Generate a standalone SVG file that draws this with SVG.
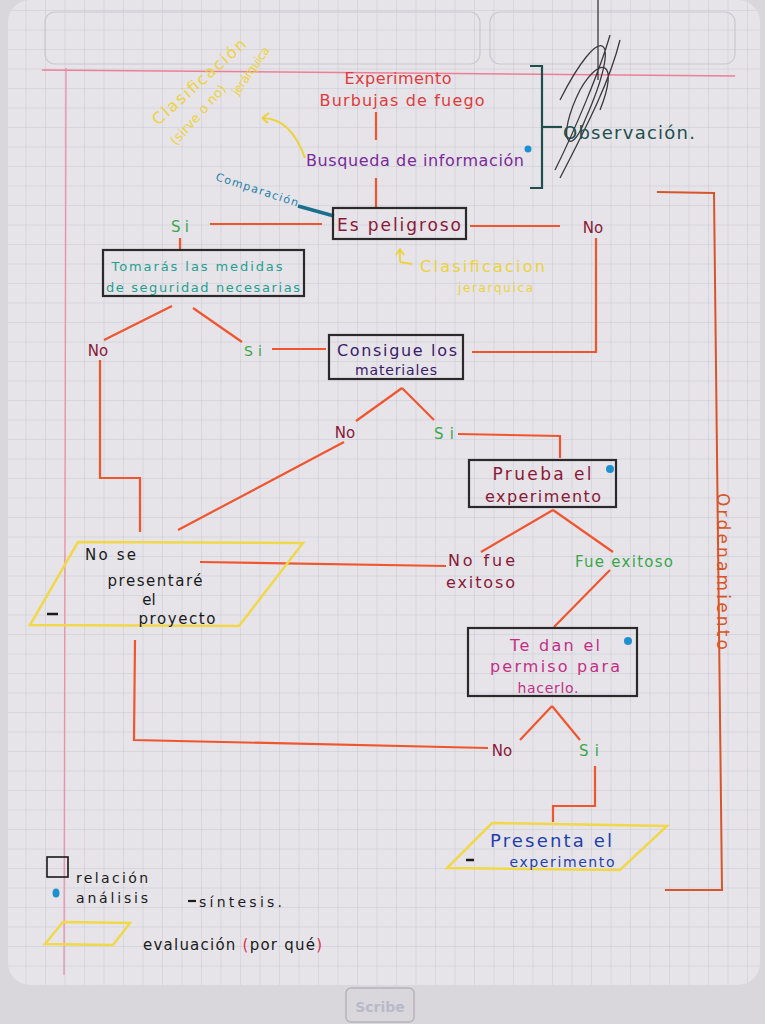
<svg xmlns="http://www.w3.org/2000/svg" width="765" height="1024" viewBox="0 0 765 1024">
<defs>
<pattern id="grid" width="19.5" height="19.5" patternUnits="userSpaceOnUse" x="6" y="10">
<path d="M19.5 0H0V19.5" fill="none" stroke="#c0c2cf" stroke-width="0.8"/>
</pattern>
<style>
.t{font-family:"DejaVu Sans","Liberation Sans",sans-serif;}
.box{fill:none;stroke:#2a2a2a;stroke-width:2.2;}
.para{fill:none;stroke:#f0d84a;stroke-width:2.5;}
.con{fill:none;stroke:#f0552e;stroke-width:2.2;}
.dot{fill:#1e90d0;}
.red{fill:#e03a3a;}
.maroon{fill:#8a1836;}
.green{fill:#3aa64a;}
.yel{fill:#ecd23c;}
</style>
</defs>
<rect width="765" height="1024" fill="#d9d7dc"/>
<rect x="8" y="0" width="752" height="985" rx="22" fill="#e6e4e9"/>
<rect x="8" y="0" width="752" height="985" rx="22" fill="url(#grid)"/>
<rect x="45" y="12" width="435" height="52" rx="10" fill="none" stroke="#c9c7d0" stroke-width="1.2"/>
<rect x="490" y="12" width="245" height="52" rx="10" fill="none" stroke="#c9c7d0" stroke-width="1.2"/>
<line x1="42" y1="70" x2="735" y2="76" stroke="#ec7f95" stroke-width="1.5"/>
<line x1="66" y1="68" x2="64" y2="975" stroke="#ec8fa8" stroke-width="1.3"/>
<rect x="346" y="988" width="68" height="34" rx="5" fill="none" stroke="#b5b3bd" stroke-width="1.5"/>
<text x="380" y="1012" class="t" font-size="14" font-weight="bold" fill="#b8b9c8" text-anchor="middle">Scribe</text>

<!-- signature scribble -->
<path d="M598 0 L598 80 M560 100 C600 20 625 30 585 120 C570 160 555 140 580 90 C600 55 620 60 600 110 M620 40 C610 80 590 120 560 178 M610 35 C600 70 575 130 555 170" fill="none" stroke="#3a3a3e" stroke-width="1.3"/>

<g id="connectors">
<line class="con" x1="376" y1="112" x2="376" y2="140"/>
<line class="con" x1="376" y1="178" x2="376" y2="208"/>
<line class="con" x1="210" y1="224" x2="322" y2="224"/>
<line class="con" x1="470" y1="226" x2="560" y2="226"/>
<line class="con" x1="180" y1="238" x2="180" y2="249"/>
<polyline class="con" points="596,238 596,352 472,352"/>
<line class="con" x1="172" y1="306" x2="104" y2="340"/>
<line class="con" x1="193" y1="308" x2="242" y2="342"/>
<line class="con" x1="272" y1="349" x2="326" y2="349"/>
<polyline class="con" points="100,360 100,478 140,478 140,532"/>
<line class="con" x1="402" y1="388" x2="356" y2="421"/>
<line class="con" x1="402" y1="388" x2="434" y2="420"/>
<polyline class="con" points="458,434 560,436 560,458"/>
<line class="con" x1="344" y1="442" x2="178" y2="530"/>
<line class="con" x1="553" y1="510" x2="481" y2="552"/>
<line class="con" x1="553" y1="510" x2="613" y2="552"/>
<line class="con" x1="200" y1="562" x2="446" y2="566"/>
<line class="con" x1="610" y1="570" x2="554" y2="627"/>
<line class="con" x1="552" y1="706" x2="520" y2="740"/>
<line class="con" x1="552" y1="706" x2="580" y2="740"/>
<polyline class="con" points="135,640 134,740 488,748"/>
<polyline class="con" points="595,766 595,806 553,806 553,822"/>
</g>

<g id="observacion">
<polyline points="530,66 542,66 542,188 530,188" fill="none" stroke="#1e4f4d" stroke-width="2.2"/>
<line x1="542" y1="127" x2="562" y2="127" stroke="#1e4f4d" stroke-width="2.2"/>
<text x="563" y="139" class="t" font-size="18" fill="#1e4f4d" textLength="132" lengthAdjust="spacing">Observación.</text>
</g>

<g id="experimento">
<text x="398" y="84" class="t red" font-size="16" text-anchor="middle" textLength="107" lengthAdjust="spacing">Experimento</text>
<text x="402" y="106" class="t red" font-size="16" text-anchor="middle" textLength="165" lengthAdjust="spacing">Burbujas de fuego</text>
</g>

<g id="busqueda">
<text x="415" y="166" class="t" font-size="16" fill="#7b2a9a" text-anchor="middle" textLength="218" lengthAdjust="spacing">Busqueda de información</text>
<circle class="dot" cx="528" cy="149" r="3.5"/>
</g>

<g id="clasificacion1">
<text class="t yel" font-size="16" transform="translate(158,126) rotate(-42)" textLength="120" lengthAdjust="spacing">Clasificación</text>
<text class="t yel" font-size="13" transform="translate(176,146) rotate(-48)" textLength="76" lengthAdjust="spacing">(sirve o no)</text>
<text class="t yel" font-size="12" transform="translate(238,96) rotate(-55)" textLength="56" lengthAdjust="spacing">jerárquica</text>
<path d="M305 158 C295 130 280 118 262 118 M262 118 l7 -5 M262 118 l6 5" fill="none" stroke="#ecd23c" stroke-width="2"/>
</g>

<g id="comparacion">
<text class="t" font-size="11" fill="#1f7fa8" transform="translate(215,180) rotate(18)" textLength="86" lengthAdjust="spacing">Comparación</text>
<line x1="298" y1="206" x2="334" y2="216" stroke="#1a6f8a" stroke-width="3.5"/>
</g>

<g id="es-peligroso">
<rect class="box" x="333" y="208" width="133" height="31"/>
<text x="399" y="231" class="t maroon" font-size="17" text-anchor="middle" textLength="124" lengthAdjust="spacing">Es peligroso</text>
</g>

<g id="clasificacion2">
<path d="M400 262 L400 250 M396 255 L400 249 L404 255 M400 262 L412 264" fill="none" stroke="#ecd23c" stroke-width="1.8"/>
<text x="420" y="272" class="t yel" font-size="16" textLength="125" lengthAdjust="spacing">Clasificacion</text>
<text x="458" y="292" class="t yel" font-size="12" textLength="75" lengthAdjust="spacing">jerarquica</text>
</g>

<g id="si1"><text x="180" y="232" class="t green" font-size="15" text-anchor="middle" textLength="18" lengthAdjust="spacing">Si</text></g>
<g id="no1"><text x="593" y="233" class="t maroon" font-size="15" text-anchor="middle">No</text></g>

<g id="tomaras">
<rect class="box" x="103" y="250" width="201" height="46"/>
<text x="197" y="271" class="t" font-size="13" fill="#1fa090" text-anchor="middle" textLength="171" lengthAdjust="spacing">Tomarás las medidas</text>
<text x="203" y="292" class="t" font-size="13" fill="#1fa090" text-anchor="middle" textLength="194" lengthAdjust="spacing">de seguridad necesarias</text>
</g>

<g id="no2"><text x="98" y="356" class="t maroon" font-size="15" text-anchor="middle">No</text></g>
<g id="si2"><text x="253" y="356" class="t green" font-size="14" text-anchor="middle" textLength="18" lengthAdjust="spacing">Si</text></g>

<g id="consigue">
<rect class="box" x="329" y="335" width="134" height="44"/>
<text x="397" y="356" class="t" font-size="16" fill="#3a1a6a" text-anchor="middle" textLength="120" lengthAdjust="spacing">Consigue los</text>
<text x="396" y="375" class="t" font-size="14" fill="#3a1a6a" text-anchor="middle" textLength="82" lengthAdjust="spacing">materiales</text>
</g>

<g id="no3"><text x="345" y="438" class="t maroon" font-size="15" text-anchor="middle">No</text></g>
<g id="si3"><text x="444" y="439" class="t green" font-size="15" text-anchor="middle" textLength="20" lengthAdjust="spacing">Si</text></g>

<g id="prueba">
<rect class="box" x="469" y="460" width="147" height="47"/>
<text x="542" y="480" class="t maroon" font-size="17" text-anchor="middle" textLength="99" lengthAdjust="spacing">Prueba el</text>
<text x="543" y="502" class="t maroon" font-size="16" text-anchor="middle" textLength="116" lengthAdjust="spacing">experimento</text>
<circle class="dot" cx="610" cy="469" r="4"/>
</g>

<g id="no-se-presentara">
<polygon class="para" points="78,542 303,543 239,626 30,625"/>
<text x="85" y="560" class="t" font-size="15" fill="#1a1a1a" textLength="51" lengthAdjust="spacing">No se</text>
<text x="155" y="586" class="t" font-size="15" fill="#1a1a1a" text-anchor="middle" textLength="95" lengthAdjust="spacing">presentaré</text>
<text x="149" y="605" class="t" font-size="15" fill="#1a1a1a" text-anchor="middle">el</text>
<text x="177" y="624" class="t" font-size="15" fill="#1a1a1a" text-anchor="middle" textLength="77" lengthAdjust="spacing">proyecto</text>
<line x1="47" y1="614" x2="58" y2="614" stroke="#1a1a1a" stroke-width="2.5"/>
</g>

<g id="no-fue-exitoso">
<text x="448" y="566" class="t maroon" font-size="16" textLength="67" lengthAdjust="spacing">No fue</text>
<text x="446" y="588" class="t maroon" font-size="16" textLength="69" lengthAdjust="spacing">exitoso</text>
</g>

<g id="fue-exitoso">
<text x="575" y="567" class="t green" font-size="15" textLength="98" lengthAdjust="spacing">Fue exitoso</text>
</g>

<g id="te-dan">
<rect class="box" x="468" y="628" width="169" height="68"/>
<text x="555" y="651" class="t" font-size="16" fill="#c42f85" text-anchor="middle" textLength="90" lengthAdjust="spacing">Te dan el</text>
<text x="555" y="672" class="t" font-size="16" fill="#c42f85" text-anchor="middle" textLength="130" lengthAdjust="spacing">permiso para</text>
<text x="548" y="693" class="t" font-size="14" fill="#c42f85" text-anchor="middle" textLength="61" lengthAdjust="spacing">hacerlo.</text>
<circle class="dot" cx="628" cy="641" r="4"/>
</g>

<g id="no4"><text x="502" y="756" class="t maroon" font-size="15" text-anchor="middle">No</text></g>
<g id="si4"><text x="589" y="756" class="t green" font-size="15" text-anchor="middle" textLength="20" lengthAdjust="spacing">Si</text></g>

<g id="presenta">
<polygon class="para" points="492,823 667,826 620,870 447,868"/>
<text x="551" y="847" class="t" font-size="18" fill="#1f3fae" text-anchor="middle" textLength="122" lengthAdjust="spacing">Presenta el</text>
<text x="562" y="867" class="t" font-size="14" fill="#1f3fae" text-anchor="middle" textLength="105" lengthAdjust="spacing">experimento</text>
<line x1="466" y1="860" x2="474" y2="860" stroke="#1a1a1a" stroke-width="2.5"/>
</g>

<g id="ordenamiento">
<polyline points="657,192 714,193 722,890 665,890" fill="none" stroke="#d8542a" stroke-width="2"/>
<text class="t" font-size="17" fill="#d8542a" transform="translate(717,493) rotate(90)" textLength="157" lengthAdjust="spacing">Ordenamiento</text>
</g>

<g id="legend">
<rect x="47" y="857" width="21" height="20" fill="none" stroke="#1a1a1a" stroke-width="1.6"/>
<text x="76" y="883" class="t" font-size="14" fill="#1a1a1a" textLength="72" lengthAdjust="spacing">relación</text>
<ellipse class="dot" cx="56" cy="893" rx="3.5" ry="4.5"/>
<text x="76" y="903" class="t" font-size="14" fill="#1a1a1a" textLength="72" lengthAdjust="spacing">análisis</text>
<line x1="188" y1="901" x2="196" y2="901" stroke="#1a1a1a" stroke-width="2.2"/>
<text x="199" y="907" class="t" font-size="14" fill="#1a1a1a" textLength="83" lengthAdjust="spacing">síntesis.</text>
<polygon class="para" points="63,922 130,923 113,945 45,944"/>
<text x="143" y="950" class="t" font-size="15" fill="#1a1a1a" textLength="179" lengthAdjust="spacing">evaluación <tspan fill="#e0304a">(</tspan>por qué<tspan fill="#e0304a">)</tspan></text>
</g>
</svg>
